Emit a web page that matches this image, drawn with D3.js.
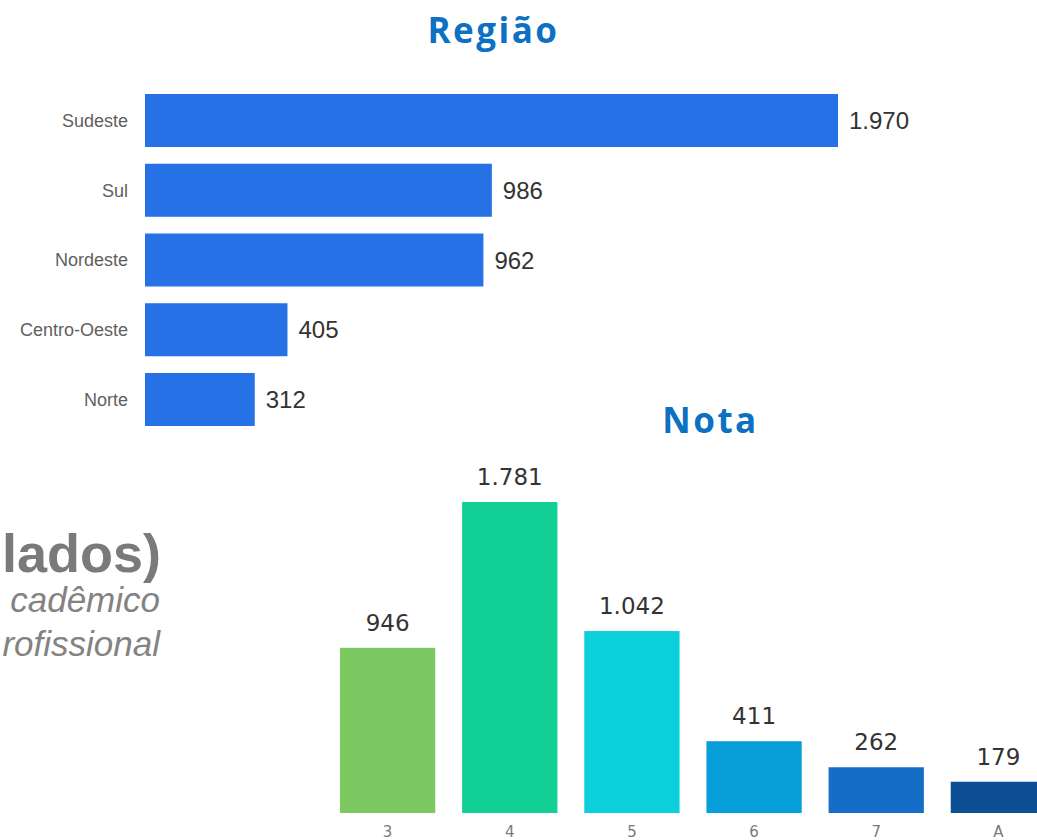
<!DOCTYPE html>
<html>
<head>
<meta charset="utf-8">
<script src="https://cdn.jsdelivr.net/npm/d3@7"></script>
<style>
  body { margin: 0; background: #fff; }
  svg { display: block; }
</style>
</head>
<body>
<div id="chart"></div>
<script>
// region chart data
const regions = ['Sudeste', 'Sul', 'Nordeste', 'Centro-Oeste', 'Norte'];
const regionValues = [1970, 986, 962, 405, 312];

// grade chart data
const grades = ['3', '4', '5', '6', '7', 'A'];
const gradeValues = [946, 1781, 1042, 411, 262, 179];
const gradeColors = ['#7cc962', '#12cf96', '#0bcfdb', '#069fd9', '#166dc7', '#0d4f95'];

// cut-off slide text on the left
const sideLines = ['lados)', 'cadêmico', 'rofissional'];

const fmt = d3.formatLocale({ decimal: ',', thousands: '.', grouping: [3], currency: ['', ''] }).format(',d');

const width = 1037, height = 840;
const svg = d3.select('#chart').append('svg')
  .attr('width', width)
  .attr('height', height);

function title(x, y, label) {
  // letter-spacing leaves a trailing gap, shift half of it back
  svg.append('text')
    .attr('x', x + 1.5).attr('y', y)
    .attr('text-anchor', 'middle')
    .attr('font-family', 'Open Sans, sans-serif')
    .attr('font-weight', 700)
    .attr('font-size', 35)
    .attr('letter-spacing', 2.5)
    .attr('fill', '#0c71c3')
    .text(label);
}

// --- Região ---
title(492, 43, 'Região');

const xr = d3.scaleLinear().domain([0, d3.max(regionValues)]).range([145, 838]);
const yr = d3.scaleBand().domain(regions).range([94, 426]).paddingInner(0.24);

const rows = svg.append('g').selectAll('g')
  .data(regions.map((r, i) => ({ name: r, value: regionValues[i] })))
  .join('g');

rows.append('rect')
  .attr('x', xr(0))
  .attr('y', d => yr(d.name))
  .attr('width', d => xr(d.value) - xr(0))
  .attr('height', yr.bandwidth())
  .attr('fill', '#2771e6');

rows.append('text')
  .attr('x', xr(0) - 17)
  .attr('y', d => yr(d.name) + yr.bandwidth() / 2)
  .attr('dy', '0.35em')
  .attr('text-anchor', 'end')
  .attr('font-family', 'Liberation Sans, Arial, sans-serif')
  .attr('font-size', 18)
  .attr('fill', '#5f5f5f')
  .text(d => d.name);

rows.append('text')
  .attr('x', d => xr(d.value) + 11)
  .attr('y', d => yr(d.name) + yr.bandwidth() / 2)
  .attr('dy', '0.36em')
  .attr('font-family', 'Liberation Sans, Arial, sans-serif')
  .attr('font-size', 24)
  .attr('fill', '#333')
  .text(d => fmt(d.value));

// --- side text ---
svg.append('text')
  .attr('x', 161).attr('y', 572)
  .attr('text-anchor', 'end')
  .attr('font-family', 'Liberation Sans, Arial, sans-serif')
  .attr('font-weight', 700)
  .attr('font-size', 54)
  .attr('fill', '#7a7a7a')
  .text(sideLines[0]);

svg.selectAll('text.side')
  .data(sideLines.slice(1))
  .join('text')
  .attr('class', 'side')
  .attr('x', 160)
  .attr('y', (d, i) => 612 + i * 44)
  .attr('text-anchor', 'end')
  .attr('font-family', 'Liberation Sans, Arial, sans-serif')
  .attr('font-style', 'italic')
  .attr('font-size', 35)
  .attr('fill', '#838383')
  .text(d => d);

// --- Nota ---
title(709, 433, 'Nota');

const xg = d3.scaleBand().domain(grades).range([340, 1046]).paddingInner(0.22);
const yg = d3.scaleLinear().domain([0, d3.max(gradeValues)]).range([813, 502]);

const cols = svg.append('g').selectAll('g')
  .data(grades.map((g, i) => ({ name: g, value: gradeValues[i], color: gradeColors[i] })))
  .join('g');

cols.append('rect')
  .attr('x', d => xg(d.name))
  .attr('y', d => yg(d.value))
  .attr('width', xg.bandwidth())
  .attr('height', d => yg(0) - yg(d.value))
  .attr('fill', d => d.color);

cols.append('text')
  .attr('x', d => xg(d.name) + xg.bandwidth() / 2)
  .attr('y', d => yg(d.value) - 17)
  .attr('text-anchor', 'middle')
  .attr('font-family', 'DejaVu Sans, sans-serif')
  .attr('font-size', 23)
  .attr('fill', '#333')
  .text(d => fmt(d.value));

const xAxis = svg.append('g')
  .attr('transform', `translate(0,${yg(0)})`)
  .call(d3.axisBottom(xg).tickSize(0).tickPadding(13));
xAxis.select('.domain').remove();
xAxis.selectAll('text')
  .attr('font-family', 'DejaVu Sans, sans-serif')
  .attr('font-size', 15)
  .attr('fill', '#7a7a7a');
</script>
</body>
</html>
